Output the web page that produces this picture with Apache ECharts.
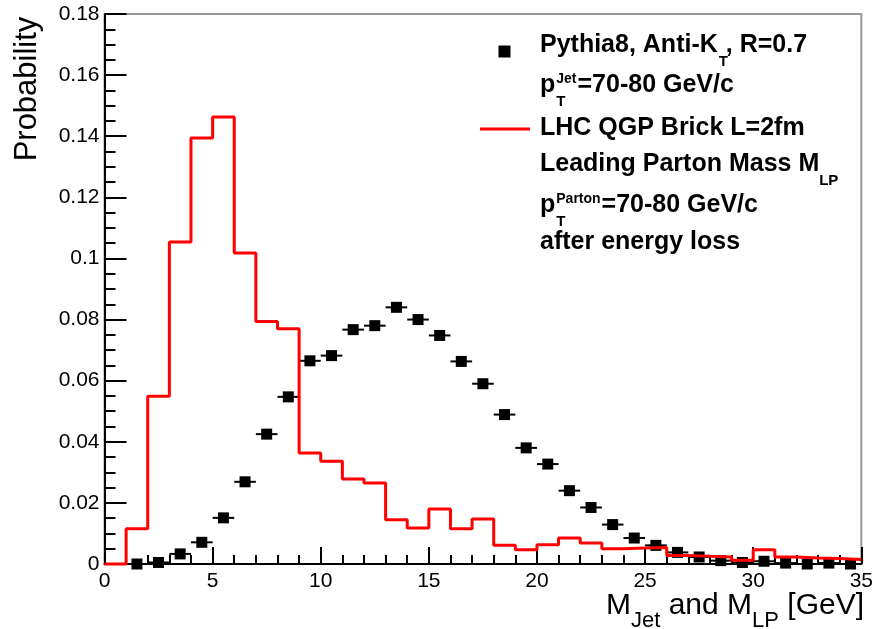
<!DOCTYPE html>
<html>
<head>
<meta charset="utf-8">
<script src="https://cdn.jsdelivr.net/npm/echarts@6/dist/echarts.min.js"></script>
<style>
html,body{margin:0;padding:0;background:#fff;}
#chart{width:876px;height:629px;}
</style>
</head>
<body>
<div id="chart"></div>
<script>
// Bin edges (GeV) of the leading-parton histogram
const binEdges = [0,1,2,3,4,5,6,7,8,9,10,11,12,13,14,15,16,17,18,19,20,21,22,23,24,25,26,27,28,29,30,31,32,33,34,35];
// LHC QGP Brick L=2fm, leading parton mass, probability per bin
const partonProb = [0, 0.0115, 0.0549, 0.1054, 0.1394, 0.1463, 0.1018, 0.0794, 0.0770, 0.0363,
  0.0336, 0.0278, 0.0265, 0.0145, 0.0118, 0.0180, 0.0115, 0.0147, 0.0061, 0.0047,
  0.0063, 0.0085, 0.0069, 0.0050, 0.0052, 0.0054, 0.0028, 0.0025, 0.0023, 0.0012,
  0.0047, 0.0023, 0.0020, 0.0018, 0.0015];
// Pythia8 jet mass: bin centers and probabilities
const jetMass = [1.5,2.5,3.5,4.5,5.5,6.5,7.5,8.5,9.5,10.5,11.5,12.5,13.5,14.5,15.5,16.5,17.5,
  18.5,19.5,20.5,21.5,22.5,23.5,24.5,25.5,26.5,27.5,28.5,29.5,30.5,31.5,32.5,33.5,34.5];
const jetProb = [0.0000, 0.0005, 0.0033, 0.0071, 0.0151, 0.0269, 0.0425, 0.0547, 0.0665, 0.0682,
  0.0767, 0.0780, 0.0840, 0.0800, 0.0748, 0.0663, 0.0590, 0.0489, 0.0380, 0.0327,
  0.0240, 0.0185, 0.0129, 0.0085, 0.0061, 0.0038, 0.0023, 0.0011, 0.0005, 0.0009,
  0.0003, 0.0000, 0.0003, 0.0000];
const binHalfWidth = 0.5;

const histData = binEdges.map((e, i) => [e, partonProb[Math.min(i, partonProb.length - 1)]]);
const pointData = jetMass.map((m, i) => [m, jetProb[i]]);

const FONT = '"Liberation Sans", Arial, Helvetica, sans-serif';
const mctx = document.createElement('canvas').getContext('2d');
function fontStr(size, bold) { return (bold ? 'bold ' : '') + size + 'px ' + FONT; }
function measure(text, size, bold) { mctx.font = fontStr(size, bold); return mctx.measureText(text).width; }

function txt(x, y, text, size, bold, align) {
  return {
    type: 'text', x: x, y: y, z: 100,
    style: {
      text: text, x: 0, y: 0,
      font: fontStr(size, bold),
      fill: '#000',
      align: align || 'left', verticalAlign: 'middle',
      textAlign: align || 'left', textVerticalAlign: 'middle'
    }
  };
}

// Legend pieces laid out left-to-right
const LF = 25, SF = 14, TF = 15;
const gfx = [];
gfx.push({type: 'rect', shape: {x: 498.5, y: 45.5, width: 12, height: 12}, style: {fill: '#000'}, z: 100});
gfx.push({type: 'line', shape: {x1: 480, y1: 129, x2: 530, y2: 129}, style: {stroke: '#ff0000', lineWidth: 3}, z: 100});
(function () {
  let x = 540;
  gfx.push(txt(x, 45, 'Pythia8, Anti-K', LF, true));
  x += measure('Pythia8, Anti-K', LF, true);
  gfx.push(txt(x + 1, 62, 'T', TF, true));
  gfx.push(txt(x + 8, 45, ', R=0.7', LF, true));

  function pT(y, sup) {
    let x0 = 540;
    gfx.push(txt(x0, y, 'p', LF, true));
    const px = x0 + measure('p', LF, true) + 1;
    gfx.push(txt(px, y - 6, sup, SF, true));
    gfx.push(txt(px, y + 17, 'T', TF, true));
    const w = Math.max(measure(sup, SF, true), measure('T', TF, true));
    gfx.push(txt(px + w + 1, y, '=70-80 GeV/c', LF, true));
  }
  pT(85, 'Jet');
  gfx.push(txt(540, 128, 'LHC QGP Brick L=2fm', LF, true));
  gfx.push(txt(540, 164, 'Leading Parton Mass M', LF, true));
  gfx.push(txt(540 + measure('Leading Parton Mass M', LF, true), 181, 'LP', TF, true));
  pT(205, 'Parton');
  gfx.push(txt(540, 242, 'after energy loss', LF, true));
})();

// X axis title, right-aligned at the axis end
(function () {
  const MF = 30, BF = 22, yM = 606, yS = 621;
  const parts = [['M', MF, yM], ['Jet', BF, yS], [' and M', MF, yM], ['LP', BF, yS], [' [GeV]', MF, yM]];
  let total = 0;
  parts.forEach(p => total += measure(p[0], p[1], false));
  let x = 864 - total;
  parts.forEach(p => { gfx.push(txt(x, p[2], p[0], p[1], false)); x += measure(p[0], p[1], false); });
})();
// Y axis title
gfx.push(Object.assign(txt(27, 89, 'Probability', 31, false, 'center'), {rotation: Math.PI / 2}));

const chart = echarts.init(document.getElementById('chart'), null, {renderer: 'canvas'});
const option = {
  animation: false,
  backgroundColor: '#fff',
  grid: {
    left: 104.5, top: 14, right: 11.5, bottom: 65,
    show: true, borderColor: '#999', borderWidth: 2, backgroundColor: 'transparent'
  },
  xAxis: {
    type: 'value', min: 0, max: 35, interval: 5,
    axisLine: {show: true, onZero: false, lineStyle: {color: '#000', width: 2}},
    axisTick: {show: true, inside: true, length: 17, lineStyle: {color: '#000', width: 2}},
    minorTick: {show: true, splitNumber: 5, length: 9, lineStyle: {color: '#000', width: 2}},
    splitLine: {show: false},
    axisLabel: {color: '#000', fontFamily: FONT, fontSize: 21, margin: 7}
  },
  yAxis: {
    type: 'value', min: 0, max: 0.18, interval: 0.02,
    axisLine: {show: true, onZero: false, lineStyle: {color: '#000', width: 2}},
    axisTick: {show: true, inside: true, length: 22, lineStyle: {color: '#000', width: 2}},
    minorTick: {show: true, splitNumber: 4, length: 11, lineStyle: {color: '#000', width: 2}},
    splitLine: {show: false},
    axisLabel: {color: '#000', fontFamily: FONT, fontSize: 21, margin: 5}
  },
  series: [
    {
      type: 'custom',
      name: 'errbars',
      renderItem: function (params, api) {
        const x = api.value(0), y = api.value(1);
        const p1 = api.coord([x - binHalfWidth, y]);
        const p2 = api.coord([x + binHalfWidth, y]);
        return {type: 'line', shape: {x1: p1[0], y1: p1[1], x2: p2[0], y2: p2[1]},
          style: {stroke: '#000', lineWidth: 2}};
      },
      data: pointData,
      encode: {x: 0, y: 1},
      clip: false,
      z: 3
    },
    {
      type: 'scatter',
      name: 'Pythia8',
      data: pointData,
      symbol: 'rect',
      symbolSize: 11,
      itemStyle: {color: '#000', opacity: 1},
      clip: false,
      z: 4
    },
    {
      type: 'line',
      name: 'LHC QGP Brick',
      data: histData,
      step: 'end',
      showSymbol: false,
      symbol: 'none',
      lineStyle: {color: '#ff0000', width: 3},
      clip: false,
      z: 5
    }
  ],
  graphic: gfx
};
chart.setOption(option);
</script>
</body>
</html>
